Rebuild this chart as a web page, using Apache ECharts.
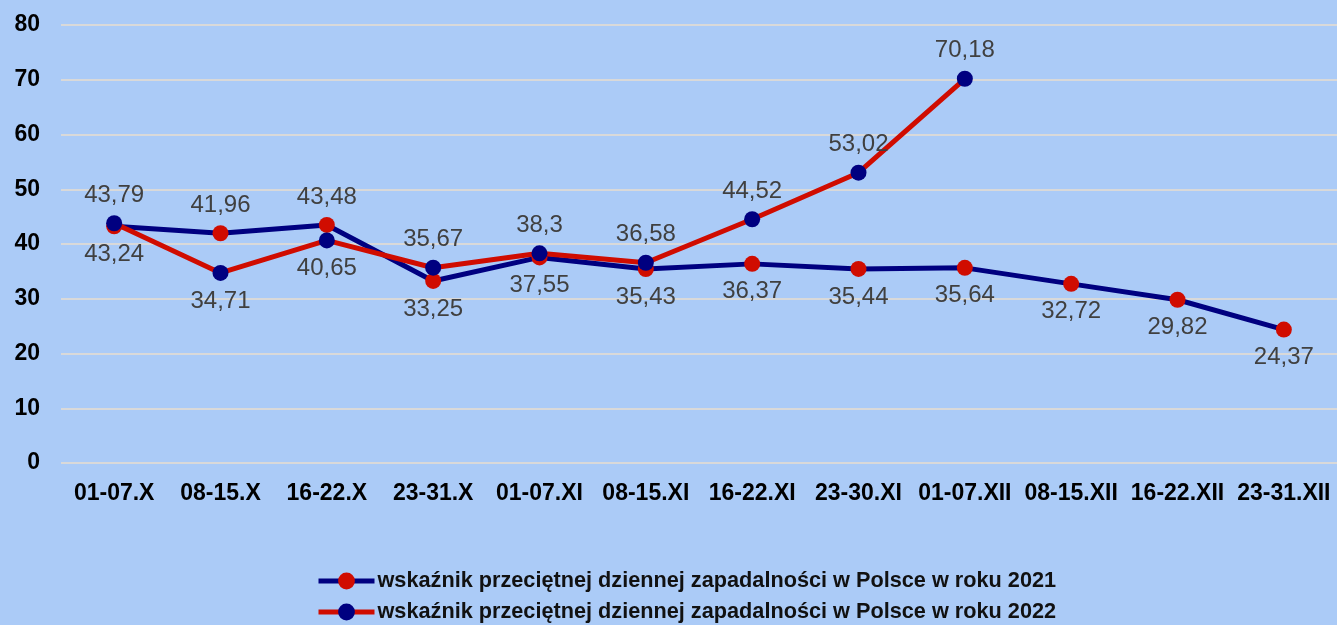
<!DOCTYPE html>
<html>
<head>
<meta charset="utf-8">
<script src="https://cdn.jsdelivr.net/npm/echarts@6/dist/echarts.min.js"></script>
<style>
html,body{margin:0;padding:0;background:#abcbf7;}
#c{width:1337px;height:625px;}
</style>
</head>
<body>
<div id="c"></div>
<script>
const categories = ['01-07.X','08-15.X','16-22.X','23-31.X','01-07.XI','08-15.XI','16-22.XI','23-30.XI','01-07.XII','08-15.XII','16-22.XII','23-31.XII'];
const values2021 = [43.24, 41.96, 43.48, 33.25, 37.55, 35.43, 36.37, 35.44, 35.64, 32.72, 29.82, 24.37];
const values2022 = [43.79, 34.71, 40.65, 35.67, 38.3, 36.58, 44.52, 53.02, 70.18, null, null, null];
const seriesNames = ['wskaźnik przeciętnej dziennej zapadalności w Polsce w roku 2021','wskaźnik przeciętnej dziennej zapadalności w Polsce w roku 2022'];
const yTicks = {min: 0, max: 80, interval: 10};

const FONT = "'Liberation Sans', Arial, sans-serif";
const NAVY = '#000080';
const RED = '#d00c00';

function fmt(v){ return String(v).replace('.', ','); }

const data2021 = values2021.map((v, i) => {
  const o = values2022[i];
  const pos = (o != null && v > o) ? 'top' : 'bottom';
  return {value: v, label: {position: pos}};
});
const data2022 = values2022.map((v, i) => {
  if (v == null) return null;
  const o = values2021[i];
  const pos = (v >= o) ? 'top' : 'bottom';
  return {value: v, label: {position: pos}};
});

const labelBase = {
  show: true, distance: 8, color: '#404040', fontSize: 24, fontFamily: FONT,
  formatter: p => fmt(p.value)
};

function legendFor(name, top){
  return {
    orient: 'horizontal', left: 316, top: top, padding: 0, itemWidth: 56, itemHeight: 21, itemGap: 0,
    lineStyle: {width: 5},
    textStyle: {color: '#111', fontWeight: 'bold', fontSize: 21.7, fontFamily: FONT, padding: [0,0,0,-2]},
    data: [name]
  };
}

const chart = echarts.init(document.getElementById('c'));
chart.setOption({
  backgroundColor: '#abcbf7',
  animation: false,
  grid: {left: 61, top: 25, width: 1282, height: 438, containLabel: false},
  xAxis: {
    type: 'category', data: categories, boundaryGap: true,
    axisLine: {show: false}, axisTick: {show: false},
    axisLabel: {color: '#000', fontWeight: 'bold', fontSize: 23, fontFamily: FONT, margin: 19, interval: 0}
  },
  yAxis: {
    type: 'value', min: yTicks.min, max: yTicks.max, interval: yTicks.interval,
    axisLine: {show: false}, axisTick: {show: false},
    axisLabel: {color: '#000', fontWeight: 'bold', fontSize: 23, fontFamily: FONT, margin: 21},
    splitLine: {lineStyle: {color: '#d9d9d9', width: 2}}
  },
  legend: [legendFor(seriesNames[0], 570), legendFor(seriesNames[1], 601)],
  series: [
    {
      name: seriesNames[0], type: 'line', data: data2021,
      symbol: 'circle', symbolSize: 16,
      lineStyle: {color: NAVY, width: 5},
      itemStyle: {color: RED},
      label: labelBase
    },
    {
      name: seriesNames[1], type: 'line', data: data2022,
      symbol: 'circle', symbolSize: 16,
      lineStyle: {color: RED, width: 5},
      itemStyle: {color: NAVY},
      label: labelBase
    }
  ]
});
</script>
</body>
</html>
